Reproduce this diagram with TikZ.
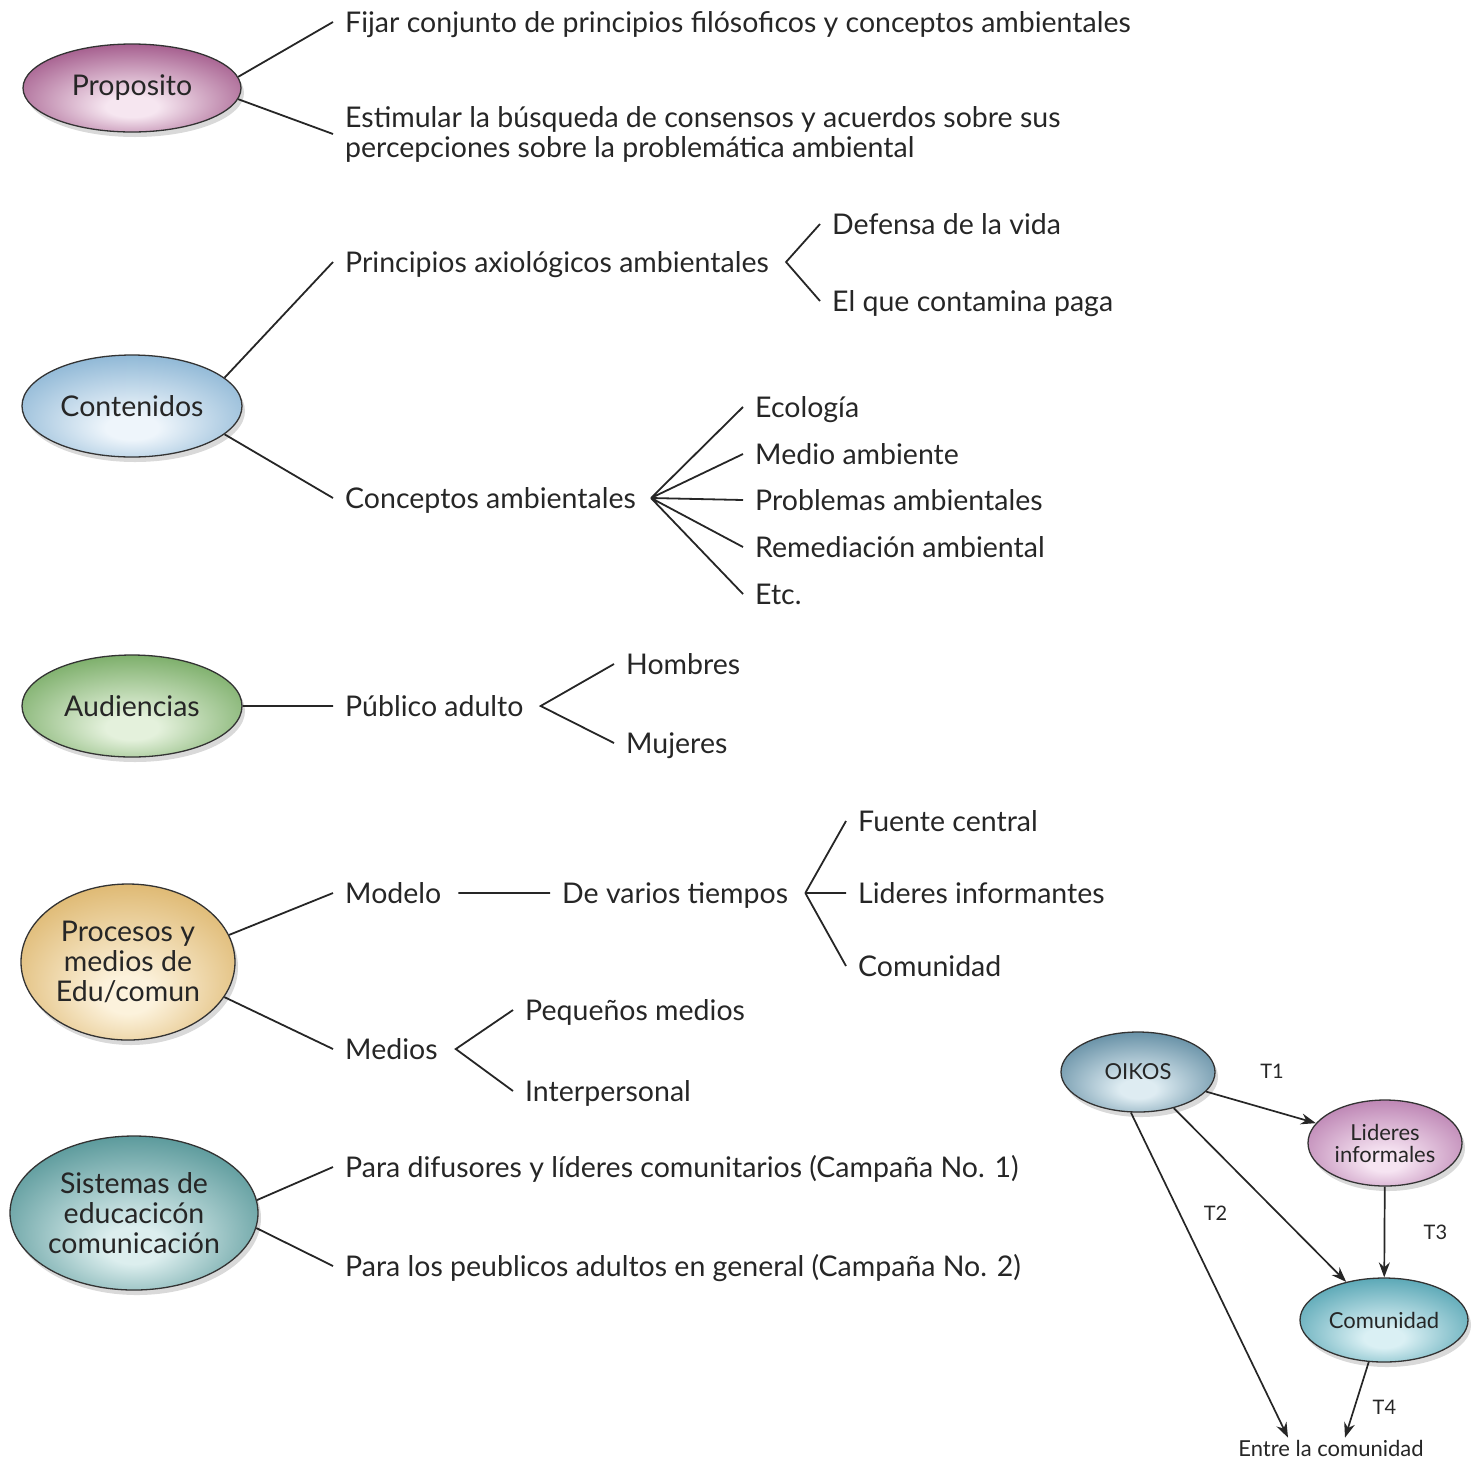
\documentclass[tikz,border=0pt]{standalone}
\usepackage{fontspec}
\setmainfont{Lato}
\usetikzlibrary{shapes.geometric, positioning, shadows, arrows.meta}

\definecolor{propin}{RGB}{246,230,240}
\definecolor{propout}{RGB}{152,72,126}
\definecolor{contin}{RGB}{238,245,251}
\definecolor{contout}{RGB}{128,174,208}
\definecolor{audin}{RGB}{228,241,220}
\definecolor{audout}{RGB}{108,164,88}
\definecolor{procin}{RGB}{252,242,220}
\definecolor{procout}{RGB}{218,176,98}
\definecolor{sisin}{RGB}{220,238,238}
\definecolor{sisout}{RGB}{70,140,142}
\definecolor{oikin}{RGB}{222,236,242}
\definecolor{oikout}{RGB}{84,130,154}
\definecolor{lidin}{RGB}{246,228,242}
\definecolor{lidout}{RGB}{180,118,170}
\definecolor{comin}{RGB}{218,240,244}
\definecolor{comout}{RGB}{70,156,172}
\colorlet{bubin}{white}
\colorlet{bubout}{gray}

\pgfdeclareradialshading[bubin,bubout]{bubble}{\pgfpoint{0bp}{-12bp}}{color(0bp)=(bubin); color(6bp)=(bubin); color(34bp)=(bubout); color(50bp)=(bubout)}

\tikzset{
x=1pt, y=-1pt, % one unit is one pixel of the sketch, y grows downwards
flow/.style={-{Stealth[length=15pt, width=11pt]}, line width=1.7pt, black!85}, % arrows of the small flow chart
bubble/.style 2 args={ellipse, draw=black!80, line width=1.3pt, inner sep=0pt, align=center, text=black!85, font=\fontsize{28.5}{30}\selectfont, /utils/exec={\colorlet{bubin}{#1}\colorlet{bubout}{#2}}, shading=bubble, drop shadow={shadow xshift=3pt, shadow yshift=-5pt, opacity=0.3}}, % coloured ellipses
leafpar/.style={anchor=west, inner xsep=12pt, inner ysep=0pt, align=left, text=black!85, font=\fontsize{28.5}{30}\selectfont}, % text with several lines
leaf/.style={anchor=west, inner xsep=12pt, inner ysep=0pt, text height=22pt, text depth=2pt, text=black!85, font=\fontsize{28.5}{30}\selectfont}, % one line of text
twig/.style={line width=1.8pt, black!85}, % plain branches
small/.style={font=\fontsize{22}{22}\selectfont}, % text of the flow chart
}

\begin{document}
\begin{tikzpicture}
    \useasboundingbox (0,0) rectangle (1479,1460);

    % the five topics
    \node[bubble={propin}{propout}, minimum width=218pt, minimum height=88pt] (prop) at (132,88) {Proposito};
    \node[bubble={contin}{contout}, minimum width=220pt, minimum height=102pt] (cont) at (132,406) {Contenidos};
    \node[bubble={audin}{audout}, minimum width=220pt, minimum height=102pt] (aud) at (132,706) {Audiencias};
    \node[bubble={procin}{procout}, minimum width=214pt, minimum height=156pt] (proc) at (128,962) {Procesos y\\medios de\\Edu/comun};
    \node[bubble={sisin}{sisout}, minimum width=248pt, minimum height=154pt] (sis) at (134,1213) {Sistemas de\\educacicón\\comunicación};

    % Proposito
    \node[leaf] (fijar) at (333,22) {Fijar conjunto de principios filósoficos y conceptos ambientales};
    \node[leafpar] (estim) at (333,134) {Estimular la búsqueda de consensos y acuerdos sobre sus\\percepciones sobre la problemática ambiental};

    % Contenidos
    \node[leaf] (princ) at (333,262) {Principios axiológicos ambientales};
    \coordinate[right=5pt of princ.east] (princV);
    \node[leaf] (defensa) at (820,224) {Defensa de la vida};
    \node[leaf] (paga) at (820,301) {El que contamina paga};
    \node[leaf] (conc) at (333,498) {Conceptos ambientales};
    \coordinate[right=3pt of conc.east] (concV);
    \node[leaf] (eco) at (743,407) {Ecología};
    \node[leaf] (medio) at (743,454) {Medio ambiente};
    \node[leaf] (probl) at (743,500) {Problemas ambientales};
    \node[leaf] (remed) at (743,547) {Remediación ambiental};
    \node[leaf] (etc) at (743,594) {Etc.};

    % Audiencias
    \node[leaf] (pub) at (333,706) {Público adulto};
    \coordinate[right=5pt of pub.east] (pubV);
    \node[leaf] (hombres) at (614,664) {Hombres};
    \node[leaf] (mujeres) at (614,743) {Mujeres};

    % Procesos y medios
    \node[leaf] (modelo) at (333,893) {Modelo};
    \node[leaf] (varios) at (550,893) {De varios tiempos};
    \coordinate[right=5pt of varios.east] (variosV);
    \node[leaf] (fuente) at (846,821) {Fuente central};
    \node[leaf] (lidinf) at (846,893) {Lideres informantes};
    \node[leaf] (comun) at (846,966) {Comunidad};
    \node[leaf] (medios) at (333,1049) {Medios};
    \coordinate[right=6pt of medios.east] (mediosV);
    \node[leaf] (peq) at (513,1010) {Pequeños medios};
    \node[leaf] (inter) at (513,1091) {Interpersonal};

    % Sistemas
    \node[leaf] (dif) at (333,1167) {Para difusores y líderes comunitarios (Campaña No. 1)};
    \node[leaf] (los) at (333,1266) {Para los peublicos adultos en general (Campaña No. 2)};

    \draw[twig]
    (prop.6) -- (fijar.west)
    (prop.-6) -- (estim.west)
    (cont.17) -- (princ.west)
    (cont.-17) -- (conc.west)
    (defensa.west) -- (princV) -- (paga.west)
    (concV) -- (eco.west)
    (concV) -- (medio.west)
    (concV) -- (probl.west)
    (concV) -- (remed.west)
    (concV) -- (etc.west)
    (aud.east) -- (pub.west)
    (hombres.west) -- (pubV) -- (mujeres.west)
    (proc.15) -- (modelo.west)
    ([xshift=5pt]modelo.east) -- (varios.west)
    (variosV) -- (fuente.west)
    (variosV) -- (lidinf.west)
    (variosV) -- (comun.west)
    (proc.-20) -- (medios.west)
    (peq.west) -- (mediosV) -- (inter.west)
    (sis.6) -- (dif.west)
    (sis.-7) -- (los.west);

    % flow chart
    \node[bubble={oikin}{oikout}, small, minimum width=154pt, minimum height=80pt] (oikos) at (1138,1072) {OIKOS};
    \node[bubble={lidin}{lidout}, small, minimum width=154pt, minimum height=86pt] (lid) at (1385,1143) {Lideres\\informales};
    \node[bubble={comin}{comout}, small, minimum width=168pt, minimum height=84pt] (com) at (1384,1320) {Comunidad};
    \node[small, inner sep=2pt, text=black!85] (entre) at (1331,1448) {Entre la comunidad};
    \path[flow, every node/.style={font=\fontsize{20}{20}\selectfont, text=black!85}]
    (oikos) edge node[above=28pt, pos=0.6] {T1} (lid)
    (oikos) edge (com)
    (oikos.-100) edge node[right=20pt, pos=0.31] {T2} ([xshift=-43pt]entre.north)
    (lid) edge node[right=35pt] {T3} (com)
    (com.-110) edge node[right=14pt, pos=0.6] {T4} ([xshift=14pt]entre.north);
\end{tikzpicture}
\end{document}
